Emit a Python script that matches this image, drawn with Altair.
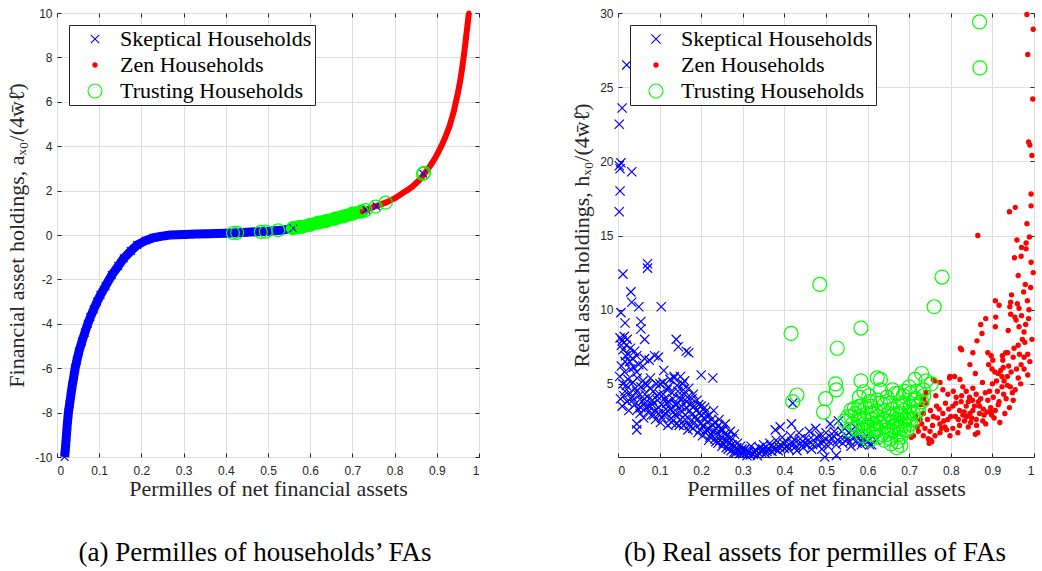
import altair as alt
import pandas as pd

SERIES = ["Skeptical Households", "Zen Households", "Trusting Households"]
BLUE, RED, GREEN = "#0000ff", "#ff0000", "#00ff00"
INK = "#262626"
GRID = "#dedede"
SERIF = "Liberation Serif"
SANS = "Liberation Sans"

x_ticks = [0, 0.1, 0.2, 0.3, 0.4, 0.5, 0.6, 0.7, 0.8, 0.9, 1]
left_y_ticks = [-10, -8, -6, -4, -2, 0, 2, 4, 6, 8, 10]
right_y_ticks = [5, 10, 15, 20, 25, 30]

# ---------------- left panel (a) ----------------
left_skeptical = [
    (0.018, -10.0), (0.020, -9.6), (0.022, -9.1), (0.024, -8.6), (0.027, -8.0), (0.030, -7.6),
    (0.033, -7.2), (0.036, -6.8), (0.040, -6.35), (0.043, -6.0), (0.047, -5.65), (0.052, -5.25),
    (0.059, -4.8), (0.066, -4.4), (0.073, -4.0), (0.079, -3.7), (0.087, -3.35), (0.095, -3.0),
    (0.103, -2.7), (0.115, -2.3), (0.130, -1.8), (0.145, -1.4), (0.158, -1.05), (0.175, -0.72),
    (0.190, -0.45), (0.210, -0.25), (0.229, -0.12), (0.250, -0.05), (0.268, 0.0), (0.300, 0.02),
    (0.330, 0.04), (0.360, 0.06), (0.400, 0.08), (0.430, 0.10), (0.460, 0.13), (0.500, 0.17),
    (0.530, 0.21), (0.560, 0.30), (0.600, 0.46), (0.640, 0.64), (0.680, 0.84), (0.720, 1.05),
]
left_skeptical_inside_circles = [(0.733, 1.13), (0.757, 1.29), (0.868, 2.76)]
left_zen = [
    (0.720, 1.05), (0.730, 1.12), (0.740, 1.19), (0.750, 1.26), (0.760, 1.33), (0.770, 1.40),
    (0.780, 1.47), (0.790, 1.56), (0.800, 1.65), (0.810, 1.77), (0.820, 1.90), (0.830, 2.02),
    (0.840, 2.15), (0.850, 2.32), (0.860, 2.50), (0.870, 2.75), (0.880, 3.00), (0.890, 3.28),
    (0.900, 3.60), (0.910, 3.98), (0.920, 4.40), (0.930, 4.90), (0.940, 5.55), (0.950, 6.40),
    (0.955, 6.90), (0.960, 7.50), (0.965, 8.20), (0.970, 9.00), (0.973, 9.50), (0.976, 10.0),
]
left_trusting_band = [
    (0.559, 0.31), (0.580, 0.37), (0.600, 0.46), (0.620, 0.56), (0.640, 0.64),
    (0.660, 0.74), (0.680, 0.84), (0.700, 0.96), (0.722, 1.06),
]
left_trusting_single = [
    (0.417, 0.09), (0.427, 0.10), (0.483, 0.14), (0.495, 0.15), (0.524, 0.21),
    (0.571, 0.34), (0.731, 1.12), (0.755, 1.28), (0.779, 1.46), (0.867, 2.75), (0.870, 2.80),
]

# ---------------- right panel (b) ----------------
right_skeptical = [
    (0.021, 26.5), (0.010, 23.6), (0.003, 22.5), (0.003, 19.7), (0.007, 19.9), (0.005, 19.5),
    (0.033, 19.3), (0.005, 18.0), (0.003, 16.6), (0.012, 12.4), (0.071, 13.1), (0.071, 12.8),
    (0.031, 11.2), (0.033, 10.5), (0.050, 10.2), (0.104, 10.2), (0.007, 9.8), (0.017, 9.1),
    (0.055, 9.2), (0.055, 8.7), (0.064, 8.0), (0.140, 8.0), (0.145, 7.5), (0.164, 7.2),
    (0.170, 7.1), (0.097, 6.8), (0.064, 6.7), (0.017, 6.5), (0.045, 5.8), (0.110, 5.9),
    (0.200, 5.6), (0.228, 5.4), (0.017, 4.5), (0.045, 1.9), (0.045, 2.3), (0.420, 3.7),
    (0.088, 6.9), (0.135, 5.4), (0.150, 5.5), (0.160, 5.2),
    (0.005, 8.1), (0.010, 7.9), (0.015, 8.2), (0.020, 7.6), (0.012, 7.3), (0.025, 7.0),
    (0.030, 7.4), (0.018, 6.9), (0.035, 6.7), (0.008, 7.6), (0.028, 6.5), (0.040, 7.2),
    (0.022, 8.0), (0.045, 6.9), (0.050, 6.3), (0.038, 6.1), (0.060, 6.2), (0.075, 6.6),
    (0.004, 5.5), (0.008, 6.2), (0.012, 5.0), (0.016, 5.8), (0.020, 4.9), (0.024, 5.3),
    (0.028, 4.4), (0.030, 6.0), (0.034, 4.1), (0.036, 5.1), (0.040, 3.6), (0.042, 4.7),
    (0.046, 5.4), (0.048, 3.3), (0.050, 4.2), (0.006, 4.0), (0.010, 3.5), (0.014, 4.2),
    (0.022, 3.8), (0.026, 3.2),
    (0.053, 3.0), (0.055, 4.8), (0.058, 3.8), (0.060, 5.2), (0.062, 2.7), (0.065, 4.3),
    (0.068, 3.4), (0.070, 4.9), (0.072, 3.1), (0.075, 4.0), (0.078, 5.4), (0.080, 2.9),
    (0.082, 3.6), (0.085, 4.5), (0.088, 3.2), (0.090, 2.6), (0.092, 5.0), (0.095, 3.9),
    (0.098, 3.0), (0.100, 4.3),
    (0.035, 3.9), (0.045, 4.5), (0.055, 3.4), (0.063, 4.0), (0.067, 5.0), (0.074, 3.5),
    (0.077, 4.7), (0.083, 3.9), (0.086, 2.9), (0.093, 4.2), (0.097, 3.4), (0.101, 5.0),
    (0.102, 2.4), (0.105, 3.6), (0.108, 5.1), (0.110, 2.9), (0.112, 4.0), (0.115, 3.3),
    (0.118, 4.6), (0.120, 2.2), (0.122, 3.8), (0.125, 5.3), (0.128, 2.7), (0.130, 4.4),
    (0.133, 3.1), (0.135, 5.5), (0.138, 3.6), (0.140, 2.3), (0.142, 4.9), (0.145, 3.0),
    (0.148, 4.1), (0.150, 2.6),
    (0.106, 2.7), (0.109, 4.3), (0.113, 3.0), (0.117, 3.7), (0.121, 4.8), (0.126, 3.3),
    (0.129, 2.4), (0.132, 4.0), (0.137, 2.9), (0.141, 3.6), (0.144, 4.5), (0.147, 2.2),
    (0.152, 3.5), (0.155, 5.0), (0.158, 2.2), (0.160, 4.3), (0.162, 2.9), (0.165, 3.8),
    (0.168, 1.9), (0.170, 4.7), (0.172, 3.2), (0.175, 2.5), (0.178, 4.0), (0.180, 2.0),
    (0.183, 3.5), (0.186, 2.8), (0.190, 3.9), (0.192, 1.7), (0.195, 3.0), (0.198, 2.3),
    (0.151, 3.9), (0.154, 3.1), (0.157, 4.6), (0.161, 2.6), (0.164, 3.4), (0.167, 4.1),
    (0.171, 2.2), (0.174, 3.6), (0.177, 2.9), (0.181, 4.3), (0.184, 2.4), (0.188, 3.2),
    (0.191, 2.6), (0.194, 3.6), (0.197, 1.9),
    (0.200, 3.5), (0.203, 1.5), (0.206, 2.7), (0.210, 3.1), (0.212, 1.9), (0.215, 2.4),
    (0.218, 1.2), (0.220, 2.9), (0.224, 1.6), (0.228, 2.2), (0.230, 3.2), (0.233, 1.3),
    (0.236, 2.0), (0.240, 1.0), (0.243, 2.6), (0.246, 1.5), (0.250, 0.8),
    (0.201, 2.9), (0.205, 2.2), (0.208, 3.4), (0.211, 1.7), (0.214, 2.8), (0.217, 2.0),
    (0.221, 1.4), (0.225, 2.6), (0.229, 1.8), (0.232, 2.4), (0.235, 1.1), (0.238, 1.7),
    (0.242, 2.2), (0.245, 1.2), (0.248, 1.9),
    (0.252, 1.9), (0.255, 1.2), (0.258, 2.3), (0.260, 0.7), (0.263, 1.5), (0.266, 1.0),
    (0.270, 1.8), (0.272, 0.5), (0.275, 1.3), (0.278, 0.8), (0.280, 1.6), (0.283, 0.35),
    (0.287, 1.0), (0.290, 0.5), (0.295, 0.8), (0.253, 1.0), (0.256, 1.6), (0.261, 1.2),
    (0.265, 0.6), (0.268, 1.3), (0.274, 0.9), (0.279, 0.4), (0.285, 0.7), (0.292, 0.3),
    (0.298, 0.6),
    (0.300, 0.3), (0.305, 0.6), (0.310, 0.15), (0.315, 0.45), (0.320, 0.8), (0.325, 0.25),
    (0.330, 0.55), (0.335, 0.15), (0.340, 0.7), (0.345, 0.4), (0.350, 0.9), (0.355, 0.3),
    (0.360, 0.6), (0.365, 1.0), (0.370, 0.45), (0.375, 0.75), (0.380, 1.2), (0.385, 0.5),
    (0.390, 0.9), (0.395, 1.4), (0.400, 0.65), (0.378, 1.9), (0.390, 2.1), (0.417, 2.3),
    (0.302, 0.5), (0.312, 0.4), (0.318, 0.2), (0.328, 0.4), (0.338, 0.35), (0.348, 0.6),
    (0.358, 0.45), (0.368, 0.8), (0.378, 0.6), (0.388, 0.7), (0.398, 1.0),
    (0.405, 1.1), (0.410, 0.6), (0.415, 1.5), (0.420, 0.9), (0.425, 1.2), (0.430, 0.5),
    (0.435, 1.7), (0.440, 1.0), (0.445, 0.7), (0.450, 1.3), (0.455, 0.9), (0.460, 1.8),
    (0.465, 0.6), (0.470, 1.2), (0.475, 2.0), (0.480, 0.9), (0.485, 1.5), (0.490, 0.6),
    (0.495, 1.1), (0.500, 1.7), (0.497, 0.07), (0.525, 0.18),
    (0.408, 0.8), (0.418, 1.1), (0.428, 0.8), (0.438, 1.3), (0.448, 1.0), (0.458, 1.2),
    (0.468, 0.9), (0.478, 1.4), (0.488, 1.0), (0.498, 1.3),
    (0.505, 0.8), (0.510, 2.3), (0.515, 1.3), (0.520, 1.8), (0.525, 0.9), (0.530, 2.5),
    (0.535, 1.4), (0.540, 1.0), (0.545, 2.0), (0.550, 1.2), (0.555, 1.7), (0.560, 0.8),
    (0.565, 1.4), (0.570, 2.1), (0.575, 1.0), (0.580, 1.6), (0.585, 0.9), (0.590, 1.3),
    (0.600, 1.1), (0.610, 0.9), (0.620, 1.2),
    (0.508, 1.1), (0.518, 1.5), (0.528, 1.2), (0.538, 1.8), (0.548, 1.5), (0.558, 1.1),
    (0.568, 1.7), (0.578, 1.3), (0.588, 1.1), (0.598, 1.5), (0.605, 0.9),
]
right_zen = [
    (0.983, 29.9), (0.998, 28.9), (0.985, 27.2), (0.997, 24.2), (0.987, 21.3), (0.990, 21.1),
    (0.995, 20.4), (0.993, 17.8), (0.993, 17.0), (0.955, 16.9), (0.941, 16.6), (0.983, 15.8),
    (0.865, 15.0), (0.959, 14.7), (0.989, 14.9), (0.981, 14.5), (0.970, 14.2), (0.981, 14.1),
    (0.969, 13.6), (0.953, 13.5), (0.962, 12.3), (0.979, 11.7), (0.975, 11.2), (0.946, 11.0),
    (0.907, 10.6), (0.916, 10.3), (0.944, 10.5), (0.960, 10.4), (0.942, 10.2), (0.964, 10.1),
    (0.988, 10.0), (0.944, 9.7), (0.954, 9.5), (0.957, 9.3), (0.987, 9.4), (0.964, 8.85),
    (0.976, 8.5), (0.938, 8.6), (0.908, 9.5), (0.884, 9.4), (0.872, 9.0), (0.907, 8.85),
    (0.875, 8.4), (0.863, 7.9), (0.823, 7.4), (0.826, 7.3), (0.853, 7.1), (0.889, 7.1),
    (0.897, 6.9), (0.932, 7.1), (0.924, 6.9), (0.937, 7.1), (0.952, 7.4), (0.962, 7.6),
    (0.978, 7.8), (0.976, 6.8), (0.976, 6.0), (0.846, 6.3), (0.891, 6.3), (0.899, 6.0),
    (0.914, 5.7), (0.923, 5.5), (0.859, 5.7), (0.926, 6.1), (0.936, 5.5), (0.936, 4.9),
    (0.923, 4.8), (0.948, 4.4), (0.916, 3.8), (0.904, 2.7), (0.880, 2.9), (0.896, 3.1),
    (0.869, 3.5), (0.889, 3.9), (0.900, 5.0), (0.910, 5.2), (0.876, 5.1), (0.861, 4.3),
    (0.853, 4.7), (0.837, 4.5), (0.829, 4.8), (0.845, 4.1), (0.825, 3.8), (0.813, 4.1),
    (0.798, 5.5), (0.809, 5.5), (0.774, 5.1), (0.762, 5.2), (0.781, 4.6), (0.793, 4.3),
    (0.805, 3.5), (0.821, 3.2), (0.837, 3.5), (0.853, 3.2), (0.869, 3.0), (0.861, 2.6),
    (0.850, 2.7), (0.865, 1.7), (0.842, 2.1), (0.821, 2.2), (0.805, 2.0), (0.793, 2.6),
    (0.774, 2.3), (0.758, 2.8), (0.751, 3.2), (0.742, 3.7), (0.766, 3.5), (0.781, 3.0),
    (0.774, 1.7), (0.754, 1.1), (0.746, 1.3), (0.734, 1.5), (0.719, 2.1), (0.710, 1.5),
    (0.726, 2.6), (0.734, 3.0), (0.798, 1.5), (0.817, 1.7), (0.829, 2.9), (0.884, 2.3),
    (0.896, 3.4), (0.914, 3.6), (0.927, 4.3), (0.943, 4.8), (0.962, 5.4), (0.969, 6.3),
    (0.985, 7.0), (0.925, 6.6), (0.901, 6.6), (0.906, 5.8), (0.995, 8.0), (0.990, 6.5),
    (0.998, 12.5), (0.993, 13.2), (0.748, 1.0), (0.752, 1.2), (0.859, 1.6), (0.705, 1.4),
    (0.786, 2.1), (0.758, 5.3), (0.797, 5.4), (0.822, 5.3), (0.740, 4.4), (0.735, 4.0),
    (0.728, 3.6), (0.715, 2.8), (0.764, 4.2), (0.787, 3.7), (0.811, 2.8), (0.833, 2.5),
    (0.846, 3.0), (0.877, 2.5), (0.941, 3.4), (0.950, 3.9), (0.930, 3.0), (0.918, 2.4),
    (0.955, 4.6), (0.968, 5.0), (0.985, 5.6),
    (0.722, 1.8), (0.730, 2.3), (0.738, 2.0), (0.744, 2.6), (0.750, 1.8), (0.756, 2.2),
    (0.762, 1.5), (0.768, 2.7), (0.772, 3.3), (0.778, 2.0), (0.783, 2.5), (0.790, 1.9),
    (0.795, 3.3), (0.800, 2.8), (0.806, 4.5), (0.812, 3.7), (0.818, 2.6), (0.826, 4.2),
    (0.832, 3.1), (0.838, 2.8), (0.842, 3.8), (0.848, 2.4), (0.852, 3.9), (0.857, 3.5),
    (0.862, 2.2), (0.866, 3.8), (0.872, 4.0), (0.878, 3.3), (0.883, 4.4), (0.887, 3.1),
    (0.893, 4.5), (0.898, 2.9), (0.902, 4.1), (0.907, 3.2), (0.912, 4.5), (0.920, 5.9),
    (0.928, 5.2), (0.933, 4.0), (0.939, 6.2), (0.945, 5.8), (0.950, 6.8), (0.958, 6.0),
    (0.965, 7.0), (0.972, 8.0), (0.980, 9.0), (0.984, 10.6), (0.992, 11.5), (0.970, 9.6),
]
right_trusting = [
    (0.869, 29.4), (0.870, 26.3), (0.779, 12.2), (0.760, 10.2), (0.485, 11.7), (0.416, 8.4),
    (0.527, 7.4), (0.584, 8.76), (0.430, 4.25), (0.420, 3.8), (0.499, 4.0), (0.494, 3.1),
    (0.523, 5.0), (0.525, 4.6), (0.584, 5.2), (0.623, 5.4), (0.631, 5.3), (0.591, 4.47),
    (0.631, 4.6), (0.730, 5.7), (0.714, 5.3), (0.753, 5.0), (0.734, 4.6), (0.718, 4.5),
    (0.702, 4.35), (0.686, 4.2), (0.667, 4.35), (0.647, 4.1), (0.623, 3.9), (0.603, 4.2),
    (0.580, 4.1), (0.584, 3.5), (0.568, 3.35), (0.560, 2.8), (0.564, 2.3), (0.576, 2.1),
    (0.592, 1.9), (0.608, 1.6), (0.624, 1.4), (0.640, 1.2), (0.656, 0.97), (0.672, 1.1),
    (0.680, 1.4), (0.695, 1.9), (0.711, 2.6), (0.722, 3.2), (0.730, 3.8),
    (0.599, 3.0), (0.623, 2.8), (0.639, 3.2), (0.655, 2.8), (0.671, 3.0), (0.687, 3.2),
    (0.615, 2.3), (0.639, 2.1), (0.663, 2.1), (0.679, 2.3), (0.695, 2.8), (0.592, 2.6),
    (0.607, 3.5), (0.631, 3.7), (0.655, 3.7), (0.679, 3.5), (0.703, 3.5), (0.711, 3.9),
    (0.647, 1.6), (0.623, 1.9), (0.687, 1.9), (0.703, 2.3),
    (0.650, 2.5), (0.660, 1.8), (0.640, 2.6), (0.620, 3.2), (0.690, 2.6), (0.670, 2.6),
    (0.600, 2.2), (0.580, 2.8), (0.570, 3.0), (0.595, 3.4), (0.615, 1.9), (0.635, 1.6),
    (0.655, 1.3), (0.675, 1.6), (0.700, 3.1), (0.685, 3.7), (0.660, 3.3), (0.610, 2.6),
    (0.645, 1.9), (0.680, 2.0), (0.560, 3.23), (0.579, 3.46), (0.552, 2.8), (0.572, 2.0),
    (0.674, 4.35), (0.690, 4.5), (0.545, 2.5), (0.556, 1.9), (0.588, 1.5), (0.605, 1.2),
    (0.670, 0.7), (0.680, 0.85),
    (0.590, 2.3), (0.610, 3.0), (0.630, 2.4), (0.650, 3.0), (0.670, 2.0), (0.690, 2.2),
    (0.710, 3.0), (0.620, 2.0), (0.660, 2.4), (0.700, 2.6), (0.640, 3.6), (0.680, 3.0),
    (0.600, 1.9), (0.720, 3.5), (0.715, 4.0), (0.735, 4.2), (0.740, 5.2), (0.700, 4.8),
    (0.660, 4.6), (0.605, 3.8),
]

# marker shapes (unit = sqrt(size)/2 px)
CIRCLE = "M1,0A1,1,0,1,1,-1,0A1,1,0,1,1,1,0Z"
DOT = "M0.3,0A0.3,0.3,0,1,1,-0.3,0A0.3,0.3,0,1,1,0.3,0Z"
X_LEFT = "M-0.6,-0.6L0.6,0.6M-0.6,0.6L0.6,-0.6"
X_RIGHT = "M-0.66,-0.66L0.66,0.66M-0.66,0.66L0.66,-0.66"


def frame(points, name):
    return pd.DataFrame(points, columns=["x", "y"]).assign(series=name)


def axes(ydomain, yticks, ytitle):
    xs = alt.Scale(domain=[0, 1], nice=False, zero=False)
    ys = alt.Scale(domain=ydomain, nice=False, zero=False)
    xa = alt.Axis(
        values=x_ticks, labelExpr="datum.value + ''", orient="bottom", offset=-4,
        tickSize=4, tickColor=INK, domain=False, grid=True, gridColor=GRID,
        labelFont=SANS, labelFontSize=12, labelColor=INK, labelPadding=8,
        title="Permilles of net financial assets", titleFont=SERIF, titleFontSize=22,
        titleFontWeight="normal", titleColor=INK, titlePadding=2,
    )
    ya = alt.Axis(
        values=yticks, labelExpr="datum.value + ''", orient="left", offset=-4,
        tickSize=4, tickColor=INK, domain=False, grid=True, gridColor=GRID,
        labelFont=SANS, labelFontSize=12, labelColor=INK, labelPadding=5,
        title=ytitle, titleFont=SERIF, titleFontSize=22,
        titleFontWeight="normal", titleColor=INK, titlePadding=6,
    )
    X = alt.X("x:Q", scale=xs, axis=xa)
    Y = alt.Y("y:Q", scale=ys, axis=ya)
    Xt = alt.X("x:Q", scale=xs, axis=alt.Axis(
        values=x_ticks, orient="top", offset=-4, tickSize=4, tickColor=INK,
        labels=False, domain=False, grid=False, title=None))
    Yt = alt.Y("y:Q", scale=ys, axis=alt.Axis(
        values=yticks, orient="right", offset=-4, tickSize=4, tickColor=INK,
        labels=False, domain=False, grid=False, title=None))
    return X, Y, Xt, Yt


LEGEND = alt.Legend(title=None, orient="top-left", offset=12)


def scatter(df, X, Y, xshape, msize):
    return alt.Chart(df).mark_point(filled=False, opacity=1, strokeWidth=1.2, size=msize).encode(
        x=X, y=Y,
        shape=alt.Shape("series:N", scale=alt.Scale(domain=SERIES, range=[xshape, DOT, CIRCLE]), legend=LEGEND),
        stroke=alt.Stroke("series:N", scale=alt.Scale(domain=SERIES, range=[BLUE, RED, GREEN]), legend=LEGEND),
        fill=alt.Fill("series:N", scale=alt.Scale(domain=SERIES, range=["transparent", RED, "transparent"]), legend=LEGEND),
    )


# ----- left panel -----
lsk = frame(left_skeptical, SERIES[0])
lzen = frame(left_zen, SERIES[1])
ltr_band = frame(left_trusting_band, SERIES[2])
ltr_single = frame(left_trusting_single, SERIES[2])
lsk_marks = pd.concat([lsk[lsk.x <= 0.56], frame(left_skeptical_inside_circles, SERIES[0])])
left_points = pd.concat([lzen, lsk_marks, ltr_single, ltr_band], ignore_index=True)

LX, LY, LXt, LYt = axes([-10, 10], left_y_ticks, "Financial asset holdings, aₓ₀/(4w̄ℓ̄)")
left_inner = alt.layer(
    alt.Chart(lsk).mark_line(color=BLUE, strokeWidth=9).encode(x=LX, y=LY),
    alt.Chart(lzen).mark_line(color=RED, strokeWidth=6).encode(x=LX, y=LY),
    alt.Chart(ltr_band).mark_line(color=GREEN, strokeWidth=13, strokeCap="round").encode(x=LX, y=LY),
    scatter(left_points, LX, LY, X_LEFT, 169),
)
left_ticks = alt.Chart(left_points).mark_point(opacity=0).encode(x=LXt, y=LYt)
left = alt.layer(left_inner, left_ticks).resolve_axis(x="independent", y="independent").properties(
    width=422, height=444,
    title=alt.Title("(a) Permilles of households’ FAs", orient="bottom", anchor="middle", frame="group",
                    font=SERIF, fontSize=27, fontWeight="normal", color="black", offset=41, dx=-13),
)

# ----- right panel -----
right_points = pd.concat([frame(right_zen, SERIES[1]), frame(right_skeptical, SERIES[0]),
                          frame(right_trusting, SERIES[2])], ignore_index=True)
RX, RY, RXt, RYt = axes([0.07, 30], right_y_ticks, "Real asset holdings, hₓ₀/(4w̄ℓ̄)")
right_ticks = alt.Chart(right_points).mark_point(opacity=0).encode(x=RXt, y=RYt)
right = alt.layer(scatter(right_points, RX, RY, X_RIGHT, 196), right_ticks).resolve_axis(
    x="independent", y="independent").properties(
    width=416, height=444,
    title=alt.Title("(b) Real assets for permilles of FAs", orient="bottom", anchor="middle", frame="group",
                    font=SERIF, fontSize=27, fontWeight="normal", color="black", offset=41, dx=-11),
)

chart = alt.hconcat(left, right, spacing=88).resolve_scale(
    x="independent", y="independent", shape="independent", stroke="independent", fill="independent"
).properties(
    padding={"left": 5, "top": 0, "right": 0, "bottom": 0}, background="white"
).configure_view(stroke=INK, strokeWidth=1).configure_legend(
    padding=3, rowPadding=4, labelFont=SERIF, labelFontSize=22, labelColor="black", labelLimit=400,
    symbolSize=196, symbolStrokeWidth=1.1, symbolOffset=12, labelOffset=14,
    strokeColor=INK, fillColor="white", cornerRadius=0,
)

chart.save("out.html", embed_options={"renderer": "svg", "actions": False})
